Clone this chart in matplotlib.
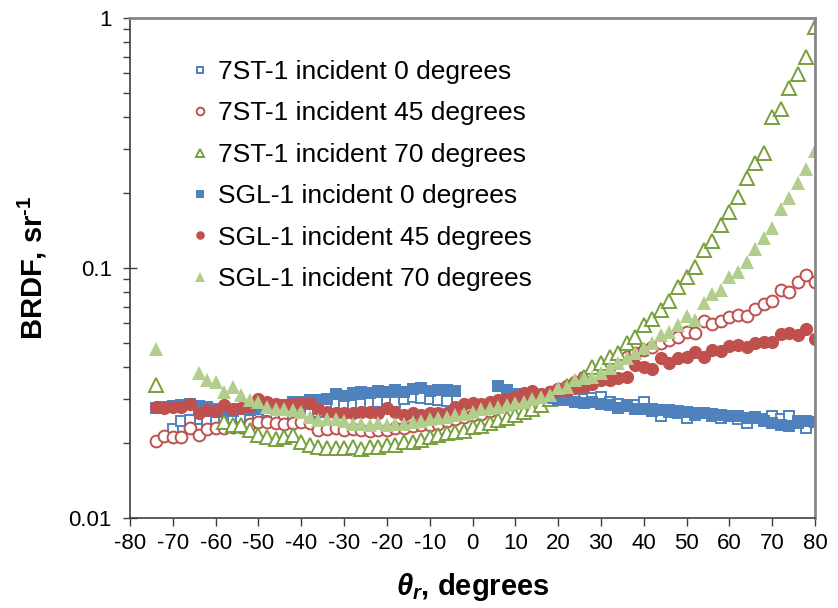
import numpy as np
import matplotlib
matplotlib.use("Agg")
import matplotlib.pyplot as plt
from matplotlib.ticker import LogLocator, NullFormatter, FixedLocator

plt.rcParams['font.family'] = ['Liberation Sans', 'DejaVu Sans']
plt.rcParams['mathtext.fontset'] = 'custom'
plt.rcParams['mathtext.rm'] = 'Liberation Sans:bold'
plt.rcParams['mathtext.it'] = 'Liberation Sans:bold:italic'
plt.rcParams['mathtext.bf'] = 'Liberation Sans:bold'

# reflection angles (degrees) for each series
ang_sgl0 = np.r_[np.arange(-74, -3, 2), np.arange(6, 81, 2)]
ang_7st0 = np.r_[np.arange(-70, -5, 2), np.arange(8, 81, 2)]
ang_45 = np.arange(-74, 81, 2)
ang_sgl70 = np.r_[[-74], np.arange(-64, 81, 2)]
ang_7st70 = np.r_[[-74], np.arange(-58, 81, 2)]

# BRDF values, sr^-1
brdf_7st0 = [
    0.0226, 0.0245, 0.0247, 0.0226, 0.0245, 0.0243, 0.0241, 0.0247, 0.0252, 0.0255,
    0.0255, 0.0245, 0.0247, 0.0249, 0.0252, 0.0256, 0.0260, 0.0266, 0.0272, 0.0285,
    0.0283, 0.0283, 0.0285, 0.0288, 0.0290, 0.0290, 0.0290, 0.0300, 0.0306, 0.0302,
    0.0300, 0.0297, 0.0295,
    0.0325, 0.0307, 0.0305, 0.0300, 0.0302, 0.0298, 0.0300, 0.0296, 0.0306, 0.0300,
    0.0302, 0.0304, 0.0292, 0.0286, 0.0282, 0.0282, 0.0291, 0.0272, 0.0255, 0.0270,
    0.0262, 0.0252, 0.0258, 0.0262, 0.0255, 0.0252, 0.0256, 0.0250, 0.0240, 0.0252,
    0.0250, 0.0256, 0.0248, 0.0255, 0.0245, 0.0229, 0.0242,
]
brdf_7st45 = [
    0.0203, 0.0213, 0.0211, 0.0211, 0.0229, 0.0215, 0.0227, 0.0229, 0.0229, 0.0232,
    0.0232, 0.0238, 0.0243, 0.0243, 0.0240, 0.0238, 0.0240, 0.0243, 0.0240, 0.0225,
    0.0227, 0.0229, 0.0225, 0.0227, 0.0225, 0.0222, 0.0225, 0.0225, 0.0229, 0.0229,
    0.0234, 0.0235, 0.0236, 0.0238, 0.0244, 0.0249, 0.0253, 0.0258, 0.0260, 0.0268,
    0.0277, 0.0287, 0.0295, 0.0302, 0.0305, 0.0310, 0.0318, 0.0328, 0.0338, 0.0350,
    0.0366, 0.0380, 0.0390, 0.0405, 0.0429, 0.0440, 0.0458, 0.0470, 0.0484, 0.0501,
    0.0515, 0.0530, 0.0556, 0.0551, 0.0614, 0.0597, 0.0614, 0.0637, 0.0649, 0.0643,
    0.0686, 0.0718, 0.0738, 0.0817, 0.0802, 0.0879, 0.0938, 0.0879,
]
brdf_7st70 = [
    0.0340,
    0.0243, 0.0236, 0.0236, 0.0225, 0.0215, 0.0211, 0.0207, 0.0210, 0.0215, 0.0201,
    0.0196, 0.0192, 0.0190, 0.0190, 0.0190, 0.0192, 0.0188, 0.0192, 0.0192, 0.0196,
    0.0196, 0.0201, 0.0201, 0.0205, 0.0211, 0.0215, 0.0219, 0.0221, 0.0223, 0.0232,
    0.0234, 0.0240, 0.0247, 0.0251, 0.0258, 0.0265, 0.0273, 0.0283, 0.0300, 0.0320,
    0.0337, 0.0350, 0.0366, 0.0401, 0.0417, 0.0441, 0.0458, 0.0501, 0.0531, 0.0592,
    0.0625, 0.0679, 0.0738, 0.0839, 0.0921, 0.101, 0.118, 0.128, 0.149, 0.168,
    0.192, 0.229, 0.263, 0.288, 0.402, 0.433, 0.525, 0.597, 0.698, 0.920,
]
brdf_sgl0 = [
    0.0275, 0.0278, 0.0280, 0.0282, 0.0285, 0.0280, 0.0277, 0.0272, 0.0270, 0.0268,
    0.0272, 0.0270, 0.0274, 0.0277, 0.0280, 0.0283, 0.0290, 0.0292, 0.0296, 0.0296,
    0.0300, 0.0312, 0.0308, 0.0315, 0.0318, 0.0316, 0.0322, 0.0320, 0.0324, 0.0318,
    0.0328, 0.0330, 0.0322, 0.0326, 0.0324, 0.0322,
    0.0338, 0.0322, 0.0312, 0.0310, 0.0305, 0.0308, 0.0302, 0.0296, 0.0298, 0.0292,
    0.0288, 0.0290, 0.0285, 0.0283, 0.0276, 0.0280, 0.0274, 0.0272, 0.0268, 0.0270,
    0.0266, 0.0268, 0.0265, 0.0262, 0.0264, 0.0260, 0.0258, 0.0255, 0.0256, 0.0252,
    0.0254, 0.0245, 0.0240, 0.0236, 0.0233, 0.0240, 0.0245, 0.0242,
]
brdf_sgl45 = [
    0.0278, 0.0275, 0.0278, 0.0278, 0.0285, 0.0263, 0.0270, 0.0268, 0.0283, 0.0273,
    0.0276, 0.0280, 0.0298, 0.0290, 0.0285, 0.0283, 0.0286, 0.0289, 0.0289, 0.0273,
    0.0266, 0.0263, 0.0263, 0.0263, 0.0265, 0.0265, 0.0263, 0.0275, 0.0265, 0.0258,
    0.0263, 0.0258, 0.0262, 0.0263, 0.0263, 0.0278, 0.0285, 0.0289, 0.0287, 0.0290,
    0.0296, 0.0298, 0.0306, 0.0315, 0.0321, 0.0312, 0.0318, 0.0322, 0.0325, 0.0330,
    0.0334, 0.0345, 0.0356, 0.0356, 0.0362, 0.0366, 0.0408, 0.0400, 0.0393, 0.0437,
    0.0417, 0.0437, 0.0441, 0.0462, 0.0441, 0.0470, 0.0467, 0.0488, 0.0493, 0.0484,
    0.0502, 0.0507, 0.0507, 0.0545, 0.0551, 0.0541, 0.0572, 0.0520,
]
brdf_sgl70 = [
    0.0476,
    0.0380, 0.0356, 0.0349, 0.0318, 0.0333, 0.0310, 0.0296, 0.0292, 0.0278, 0.0273,
    0.0273, 0.0270, 0.0265, 0.0253, 0.0247, 0.0250, 0.0250, 0.0245, 0.0238, 0.0238,
    0.0236, 0.0240, 0.0236, 0.0238, 0.0237, 0.0242, 0.0245, 0.0249, 0.0252, 0.0254,
    0.0259, 0.0261, 0.0265, 0.0272, 0.0275, 0.0278, 0.0283, 0.0289, 0.0292, 0.0300,
    0.0304, 0.0310, 0.0332, 0.0335, 0.0356, 0.0363, 0.0366, 0.0380, 0.0398, 0.0417,
    0.0437, 0.0458, 0.0477, 0.0501, 0.0540, 0.0555, 0.0592, 0.0643, 0.0619, 0.0724,
    0.0787, 0.0817, 0.0921, 0.0964, 0.1057, 0.119, 0.132, 0.145, 0.172, 0.191,
    0.219, 0.249, 0.294,
]

labels = [
    '7ST-1 incident 0 degrees', '7ST-1 incident 45 degrees', '7ST-1 incident 70 degrees',
    'SGL-1 incident 0 degrees', 'SGL-1 incident 45 degrees', 'SGL-1 incident 70 degrees',
]
x_ticks = list(range(-80, 81, 10))

blue = '#4f81bd'
red = '#c0504d'
green_line = '#77a03c'
green_fill = '#b3cd8c'

fig = plt.figure(figsize=(8.38, 6.08), dpi=100)
ax = fig.add_axes([130 / 838, 1 - 518 / 608, 685 / 838, 500 / 608])

ax.plot(ang_7st0, brdf_7st0, ls='none', marker='s', ms=6.5, mfc='white', mec=blue, mew=1.4, label=labels[0])
ax.plot(ang_45, brdf_7st45, ls='none', marker='o', ms=8.5, mfc='white', mec=red, mew=1.4, label=labels[1])
ax.plot(ang_7st70, brdf_7st70, ls='none', marker='^', ms=9.5, mfc='white', mec=green_line, mew=1.4, label=labels[2])
ax.plot(ang_sgl0, brdf_sgl0, ls='none', marker='s', ms=8.5, mfc=blue, mec=blue, mew=0, label=labels[3])
ax.plot(ang_45, brdf_sgl45, ls='none', marker='o', ms=9.5, mfc=red, mec=red, mew=0, label=labels[4])
ax.plot(ang_sgl70, brdf_sgl70, ls='none', marker='^', ms=10.5, mfc=green_fill, mec=green_fill, mew=0, label=labels[5])

ax.set_yscale('log')
ax.set_ylim(0.01, 1)
ax.set_xlim(-80, 80)
ax.xaxis.set_major_locator(FixedLocator(x_ticks))
ax.set_xticklabels([str(t) for t in x_ticks], fontsize=16)
ax.yaxis.set_minor_locator(LogLocator(base=10, subs=np.arange(2, 10), numticks=20))
ax.yaxis.set_minor_formatter(NullFormatter())
ax.set_yticks([0.01, 0.1, 1])
ax.set_yticklabels(['0.01', '0.1', '1'], fontsize=16)

for side in ['top', 'right']:
    ax.spines[side].set_color('#868686')
    ax.spines[side].set_linewidth(2)
for side in ['left', 'bottom']:
    ax.spines[side].set_color('#404040')
    ax.spines[side].set_linewidth(1.2)

ax.tick_params(axis='x', which='major', direction='out', length=6, width=1, color='#404040', pad=5)
ax.tick_params(axis='y', which='major', direction='inout', length=10, width=1, color='#404040', pad=8)
ax.tick_params(axis='y', which='minor', direction='out', length=5, width=1, color='#404040')

ax.set_xlabel(r'$\theta_r$, degrees', fontsize=21, fontweight='bold', labelpad=12)
ax.set_ylabel(r'BRDF, sr$^{\text{-1}}$', fontsize=21, fontweight='bold', labelpad=14)

leg = ax.legend(loc='upper left', bbox_to_anchor=(192 / 838, 1 - 60 / 608), bbox_transform=fig.transFigure,
                frameon=False, fontsize=19, markerscale=0.65, handlelength=0.6, handletextpad=0.4,
                labelspacing=0.66, borderpad=0, borderaxespad=0)

fig.savefig('out.png', dpi=100)
